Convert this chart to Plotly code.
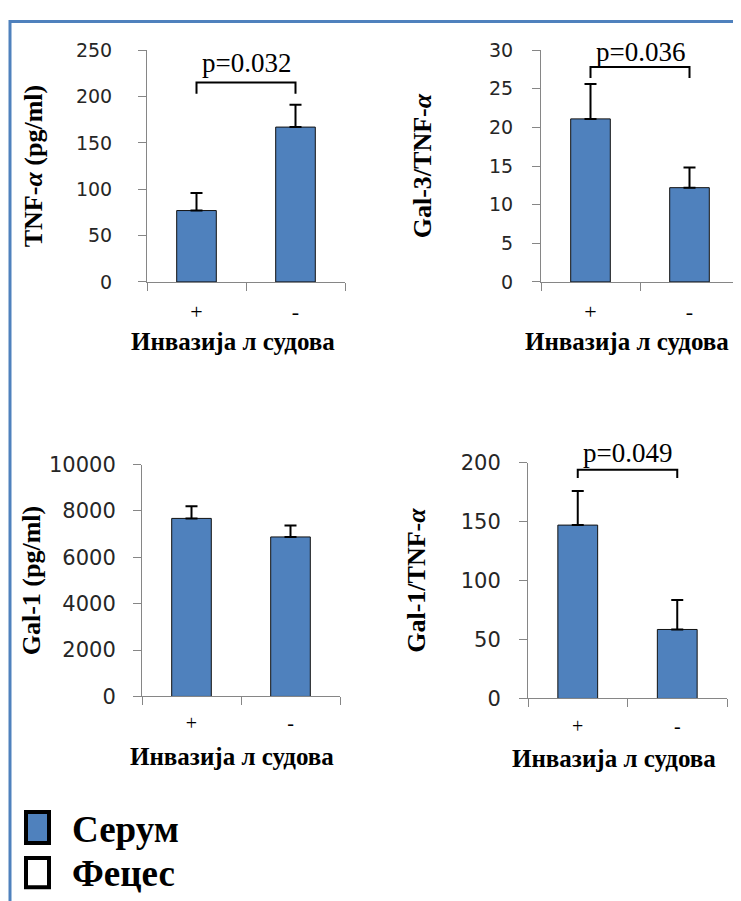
import plotly.graph_objects as go

# measured placement of the figure inside the photographed page
OFFX = 8          # page x of the figure's left edge
TOP = 21          # photographed y of the figure's top edge
SY = 0.97         # photographed / figure vertical pixel ratio
W = 741 - OFFX
H = 907

# ---------------- data ----------------
categories = ["+", "-"]

tnf_values = [77, 167]
tnf_errors = [19, 24]

gal3_tnf_values = [21.1, 12.2]
gal3_tnf_errors = [4.5, 2.6]

gal1_values = [7680, 6880]
gal1_errors = [520, 490]

gal1_tnf_values = [147, 58.5]
gal1_tnf_errors = [29, 25]

# significance brackets: [low end, top]
tnf_bracket = [203, 215]
gal3_tnf_bracket = [26.4, 27.8]
gal1_tnf_bracket = [187, 194]

p_labels = ["p=0.032", "p=0.036", "p=0.049"]

y_titles = ["TNF-<i>α</i> (pg/ml)", "Gal-3/TNF-<i>α</i>", "Gal-1 (pg/ml)", "Gal-1/TNF-<i>α</i>"]
x_title = "Инвазија л судова"
legend_labels = ["Серум", "Фецес"]

BLUE = "#4F81BD"
AXIS = "#868686"
SERIF = "Liberation Serif"
SANS = "DejaVu Sans"


def fx(px):
    return min(1, (px - OFFX) / W)


def fy(py):
    return min(1, 1 - ((py - TOP) / SY) / H)


panels = [
    dict(v=tnf_values, e=tnf_errors, ymax=250, dtick=50, xd=(147, 345), yd=(51, 282),
         lso=22, tso=25, tfs=19, xt=(233, 341), xfs=22, xls=10),
    dict(v=gal3_tnf_values, e=gal3_tnf_errors, ymax=30, dtick=5, xd=(541, 739), yd=(51, 282),
         lso=15, tso=49, tfs=19, xt=(627, 341), xfs=22, xls=10),
    dict(v=gal1_values, e=gal1_errors, ymax=10000, dtick=2000, xd=(142, 340), yd=(464, 695),
         lso=13, tso=0, tfs=21, xt=(232, 755), xfs=20, xls=9),
    dict(v=gal1_tnf_values, e=gal1_tnf_errors, ymax=200, dtick=50, xd=(528, 727), yd=(462, 697),
         lso=14, tso=27, tfs=21, xt=(614, 757), xfs=20, xls=10),
]

fig = go.Figure()
layout = {}
annotations = []

for i, p in enumerate(panels):
    n = "" if i == 0 else str(i + 1)
    xa, ya = "x" + n, "y" + n
    fig.add_trace(go.Bar(
        x=categories, y=p["v"], xaxis=xa, yaxis=ya, width=0.4,
        marker=dict(color=BLUE, line=dict(color="#111111", width=1)),
        error_y=dict(type="data", symmetric=False, array=p["e"], arrayminus=[0, 0],
                     color="black", thickness=2, width=6),
        showlegend=False, hoverinfo="y",
    ))
    layout["xaxis" + n] = dict(
        domain=[fx(p["xd"][0]), fx(p["xd"][1])], anchor=ya, type="category",
        tickson="boundaries", ticks="outside", ticklen=8, tickcolor=AXIS,
        showline=True, linecolor=AXIS, linewidth=1, showgrid=False,
        tickfont=dict(family=SERIF, size=p["xfs"], color="black"), ticklabelstandoff=p["xls"],
        fixedrange=True,
    )
    layout["yaxis" + n] = dict(
        domain=[fy(p["yd"][1]), fy(p["yd"][0])], anchor=xa, range=[0, p["ymax"]], dtick=p["dtick"],
        tickformat="d",
        ticks="outside", ticklen=8, tickcolor=AXIS, showline=True, linecolor=AXIS,
        linewidth=1, showgrid=False, zeroline=False,
        tickfont=dict(family=SANS, size=p["tfs"], color="#262626"), ticklabelstandoff=p["lso"],
        title=dict(text="<b>%s</b>" % y_titles[i], font=dict(family=SERIF, size=26, color="black"),
                   standoff=p["tso"]),
        fixedrange=True,
    )
    # category-axis title (placed like the original, slightly left of the axis centre)
    annotations.append(dict(
        x=fx(p["xt"][0]), y=fy(p["xt"][1]), xref="paper", yref="paper",
        text="<b>%s</b>" % x_title, showarrow=False,
        font=dict(family=SERIF, size=25, color="black"),
        xanchor="center", yanchor="middle",
    ))

# significance brackets and p-values
bracket_specs = [(0, tnf_bracket, 3), (1, gal3_tnf_bracket, -2), (3, gal1_tnf_bracket, 0)]
for k, (pi, br, ys) in enumerate(bracket_specs):
    n = "" if pi == 0 else str(pi + 1)
    fig.add_trace(go.Scatter(
        x=[categories[0], categories[0], categories[1], categories[1]],
        y=[br[0], br[1], br[1], br[0]],
        xaxis="x" + n, yaxis="y" + n, mode="lines",
        line=dict(color="black", width=2), showlegend=False, hoverinfo="skip",
        cliponaxis=False,
    ))
    annotations.append(dict(
        x=0.5, y=br[1], xref="x" + n, yref="y" + n, text=p_labels[k],
        showarrow=False, font=dict(family=SERIF, size=27, color="black"),
        xanchor="center", yanchor="bottom", yshift=ys,
    ))

shapes = [
    dict(type="line", xref="paper", yref="paper", x0=fx(10), x1=1, y0=1 - 1.5 / H, y1=1 - 1.5 / H,
         line=dict(color=BLUE, width=3)),
    dict(type="line", xref="paper", yref="paper", x0=fx(10), x1=fx(10), y0=0, y1=1,
         line=dict(color=BLUE, width=3)),
    dict(type="rect", xref="paper", yref="paper", x0=fx(26), x1=fx(49), y0=fy(841), y1=fy(810),
         fillcolor=BLUE, line=dict(color="black", width=4)),
    dict(type="rect", xref="paper", yref="paper", x0=fx(26), x1=fx(49), y0=fy(885), y1=fy(856),
         fillcolor="white", line=dict(color="black", width=4)),
]
annotations.append(dict(x=fx(70), y=fy(828), xref="paper", yref="paper",
                        text="<b>%s</b>" % legend_labels[0], showarrow=False,
                        font=dict(family=SERIF, size=37, color="black"),
                        xanchor="left", yanchor="middle"))
annotations.append(dict(x=fx(70), y=fy(871), xref="paper", yref="paper",
                        text="<b>%s</b>" % legend_labels[1], showarrow=False,
                        font=dict(family=SERIF, size=37, color="black"),
                        xanchor="left", yanchor="middle"))

fig.update_layout(
    width=W, height=H, autosize=False,
    margin=dict(l=0, r=0, t=0, b=0),
    paper_bgcolor="white", plot_bgcolor="white",
    showlegend=False, bargap=0.6,
    shapes=shapes, annotations=annotations,
    **layout,
)

fig.write_html("out.html", include_plotlyjs=True, config={"displayModeBar": False})
